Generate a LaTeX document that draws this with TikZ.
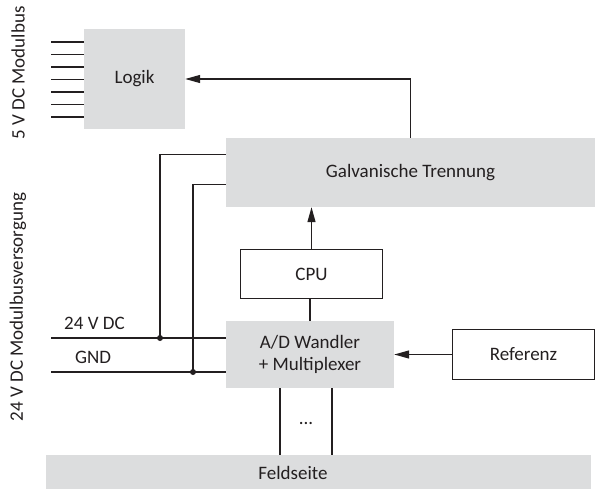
\documentclass[tikz,border=0pt]{standalone}
\usepackage{fontspec}
\setmainfont{Carlito}
\usetikzlibrary{arrows.meta,calc}
\definecolor{boxgray}{RGB}{220,221,222}
\definecolor{ink}{RGB}{35,31,32}
\newcommand{\dfont}{\fontsize{19}{22}\selectfont}
\tikzset{
  graybox/.style={fill=boxgray, draw=none, inner sep=0pt, text=ink, font=\dfont, align=center},
  whitebox/.style={fill=white, draw=ink, line width=1.3pt, inner sep=0pt, text=ink, font=\dfont},
  wire/.style={draw=ink, line width=1.3pt},
  arr/.style={wire, -{Triangle[length=15pt,width=8pt]}},
  lbl/.style={text=ink, inner sep=0pt, font=\dfont},
  dot/.style={circle, fill=ink, inner sep=0pt, minimum size=6pt}
}
\begin{document}
\begin{tikzpicture}[x=1pt,y=-1pt]
\useasboundingbox (0,0) rectangle (596,489);
% boxes
\node[graybox, minimum width=101pt, minimum height=100pt] (logik) at (134.5,79) {Logik};
\node[graybox, minimum width=369pt, minimum height=69pt] (galv) at (410.5,172.5) {Galvanische Trennung};
\node[whitebox, minimum width=141.5pt, minimum height=48.5pt] (cpu) at (311.5,274) {CPU};
\node[graybox, minimum width=168pt, minimum height=67pt] (ad) at (310,354.5) {A/D Wandler\\+ Multiplexer};
\node[whitebox, minimum width=141.5pt, minimum height=49.5pt] (ref) at (523.5,354.5) {Referenz};
\node[graybox, minimum width=545pt, minimum height=34pt] (feld) at (318.5,472) {};
\node[lbl] (feldtext) at (293,472.5) {Feldseite};
% side labels
\node[lbl, rotate=90] (modbus) at (18,73) {5 V DC Modulbus};
\node[lbl, rotate=90] (modvers) at (18,307) {24 V DC Modulbusversorgung};
\node[lbl, anchor=west] (l24) at (64,323) {24 V DC};
\node[lbl, anchor=west] (lgnd) at (75,357) {GND};
\node[lbl] (dots) at (306,423) {...};
% logic bus lines
\foreach \i in {0,...,6} {
  \coordinate (b\i) at (51,{42+12.5*\i});
  \draw[wire] (b\i) -- (b\i -| logik.west);
}
% arrows
\draw[arr] (galv.north) |- (logik.east);
\draw[arr] (cpu.north) -- (cpu.north |- galv.south);
\draw[wire] (ad.north) -- (ad.north |- cpu.south);
\draw[arr] (ref.west) -- (ad.east);
% supply lines
\coordinate (s24) at (51,338);
\coordinate (sgnd) at (51,372);
\coordinate (j24) at (160,338);
\coordinate (jgnd) at (193,372);
\coordinate (g24) at ($(galv.north west)+(0,17)$);
\coordinate (ggnd) at ($(galv.north west)+(0,47)$);
\draw[wire] (s24) -- (s24 -| ad.west);
\draw[wire] (sgnd) -- (sgnd -| ad.west);
\draw[wire] (j24) |- (g24);
\draw[wire] (jgnd) |- (ggnd);
\node[dot] at (j24) {};
\node[dot] at (jgnd) {};
% field lines
\coordinate (f1) at (280,388);
\coordinate (f2) at (332,388);
\draw[wire] (f1) -- (f1 |- feld.north);
\draw[wire] (f2) -- (f2 |- feld.north);
\end{tikzpicture}
\end{document}
